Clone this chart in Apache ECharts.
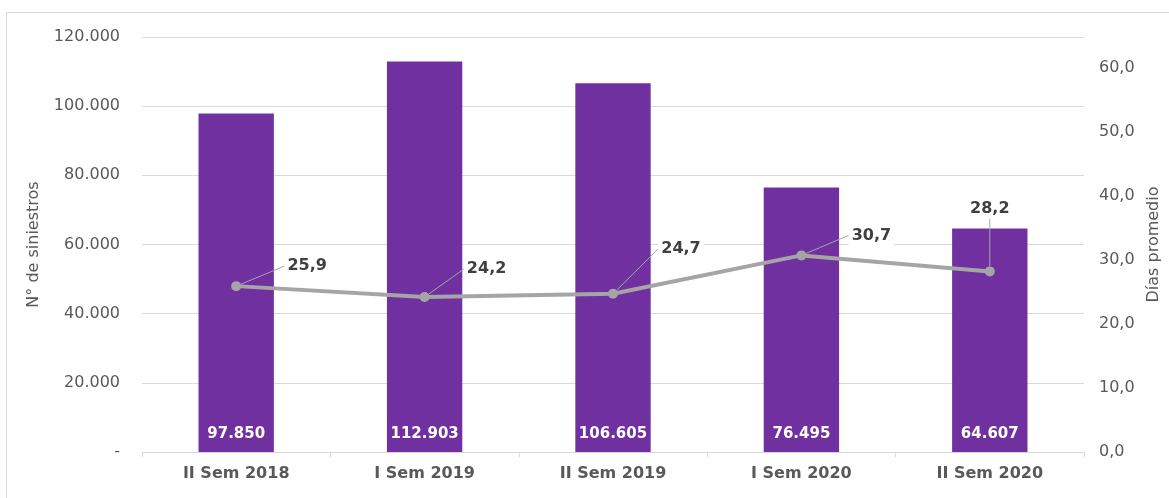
<!DOCTYPE html>
<html>
<head>
<meta charset="utf-8">
<script src="https://cdn.jsdelivr.net/npm/echarts@6/dist/echarts.min.js"></script>
<style>
  html, body { margin: 0; padding: 0; background: #fff; }
  #frame { position: absolute; left: 6px; top: 12px; width: 1180px; height: 500px; border: 1px solid #D9D9D9; box-sizing: border-box; }
  #chart { position: absolute; left: 0; top: 0; width: 1169px; height: 498px; }
</style>
</head>
<body>
<div id="frame"></div>
<div id="chart"></div>
<script>
// datos
const periodos = ['II Sem 2018', 'I Sem 2019', 'II Sem 2019', 'I Sem 2020', 'II Sem 2020'];
const siniestros = [97850, 112903, 106605, 76495, 64607];
const diasPromedio = [25.9, 24.2, 24.7, 30.7, 28.2];

// desplazamiento de etiquetas de la linea (como en el original)
const labelOffsets = [[71, 0], [62, -8], [68, -25], [70, 0], [0, -43]];

const fontFamily = '"DejaVu Sans", Verdana, sans-serif';

const fmtMiles = (v) => {
  if (v === 0) return '-';
  return String(Math.round(v)).replace(/\B(?=(\d{3})+(?!\d))/g, '.');
};
const fmtDec = (v) => v.toFixed(1).replace('.', ',');

const myChart = echarts.init(document.getElementById('chart'));

const option = {
  backgroundColor: 'transparent',
  animation: false,
  textStyle: { fontFamily },
  grid: { left: 142, right: 85, top: 37, bottom: 46, containLabel: false, outerBoundsMode: 'none' },
  xAxis: {
    type: 'category',
    data: periodos,
    axisLine: { lineStyle: { color: '#D9D9D9', width: 1 } },
    axisTick: { show: true, length: 5, lineStyle: { color: '#D9D9D9' } },
    axisLabel: { color: '#595959', fontSize: 16, fontWeight: 'bold', margin: 14, fontFamily },
  },
  yAxis: [
    {
      type: 'value',
      min: 0,
      max: 120000,
      interval: 20000,
      name: 'N° de siniestros',
      nameLocation: 'middle',
      nameRotate: 90,
      nameGap: 100,
      nameTextStyle: { color: '#595959', fontSize: 16, fontFamily },
      axisLine: { show: false },
      axisTick: { show: false },
      splitLine: { lineStyle: { color: '#D9D9D9', width: 1 } },
      axisLabel: { color: '#595959', fontSize: 16, margin: 22, formatter: fmtMiles, fontFamily },
    },
    {
      type: 'value',
      min: 0,
      max: 64.8,
      interval: 10,
      name: 'Días promedio',
      nameLocation: 'middle',
      nameRotate: 90,
      nameGap: 62,
      nameTextStyle: { color: '#595959', fontSize: 16, fontFamily },
      axisLine: { show: false },
      axisTick: { show: false },
      splitLine: { show: false },
      axisLabel: {
        color: '#595959', fontSize: 16, margin: 15, fontFamily,
        formatter: (v) => (Math.abs(v % 10) < 1e-6 ? fmtDec(v) : ''),
      },
    },
  ],
  series: [
    {
      name: 'N° de siniestros',
      type: 'bar',
      data: siniestros,
      barWidth: '40%',
      itemStyle: { color: '#7030A0' },
      label: {
        show: true,
        position: 'insideBottom',
        distance: 10,
        color: '#fff',
        fontSize: 15,
        fontWeight: 'bold',
        fontFamily,
        formatter: (p) => fmtMiles(p.value),
      },
    },
    {
      name: 'Días promedio',
      type: 'line',
      yAxisIndex: 1,
      data: diasPromedio,
      symbol: 'circle',
      symbolSize: 10,
      lineStyle: { color: '#A5A5A5', width: 4 },
      itemStyle: { color: '#A5A5A5' },
      z: 5,
      label: {
        show: true,
        position: 'top',
        color: '#404040',
        fontSize: 16,
        fontWeight: 'bold',
        fontFamily,
        backgroundColor: '#fff',
        padding: [2, 3],
        formatter: (p) => fmtDec(p.value),
      },
      labelLine: { show: true, lineStyle: { color: '#A5A5A5', width: 1 } },
      labelLayout: (params) => {
        const off = labelOffsets[params.dataIndex] || [0, 0];
        return { dx: off[0], dy: off[1] };
      },
    },
  ],
};

myChart.setOption(option);
window.addEventListener('resize', () => myChart.resize());
</script>
</body>
</html>
